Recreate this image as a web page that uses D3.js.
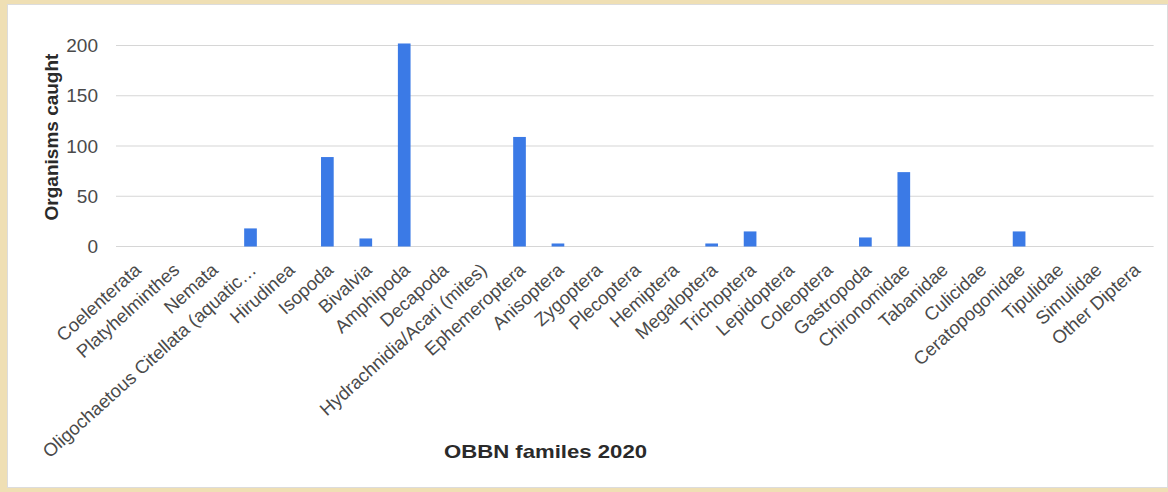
<!DOCTYPE html>
<html>
<head>
<meta charset="utf-8">
<script src="https://cdn.jsdelivr.net/npm/d3@7"></script>
<style>
  html, body { margin: 0; padding: 0; background: #efdfb4; }
  svg { display: block; }
  text { font-family: "Liberation Sans", Arial, sans-serif; }
</style>
</head>
<body>
<svg id="chart" width="1168" height="492"></svg>
<script>
// OBBN benthic families, 2020 sample
const categories = [
  "Coelenterata", "Platyhelminthes", "Nemata", "Oligochaetous Citellata (aquatic\u2026",
  "Hirudinea", "Isopoda", "Bivalvia", "Amphipoda", "Decapoda",
  "Hydrachnidia/Acari (mites)", "Ephemeroptera", "Anisoptera", "Zygoptera",
  "Plecoptera", "Hemiptera", "Megaloptera", "Trichoptera", "Lepidoptera",
  "Coleoptera", "Gastropoda", "Chironomidae", "Tabanidae", "Culicidae",
  "Ceratopogonidae", "Tipulidae", "Simulidae", "Other Diptera"
];
const counts = [0, 0, 0, 18, 0, 89, 8, 202, 0, 0, 109, 3, 0, 0, 0, 3, 15, 0, 0, 9, 74, 0, 0, 15, 0, 0, 0];
const yTicks = [0, 50, 100, 150, 200];
const yTitle = "Organisms caught";
const xTitle = "OBBN familes 2020";

const svg = d3.select("#chart");

// white card on the beige page
svg.append("rect")
  .attr("x", 7.5).attr("y", 4.5)
  .attr("width", 1160).attr("height", 483)
  .attr("fill", "#ffffff")
  .attr("stroke", "#dcdcdc");

const x = d3.scaleBand()
  .domain(categories)
  .range([116, 1153.6])
  .paddingInner(0.67)
  .paddingOuter(0.335);

const y = d3.scaleLinear()
  .domain([0, 200])
  .range([246.5, 45.5]);

// horizontal gridlines
svg.append("g")
  .selectAll("line")
  .data(yTicks)
  .join("line")
  .attr("x1", 116).attr("x2", 1153.6)
  .attr("y1", d => y(d)).attr("y2", d => y(d))
  .attr("stroke", "#d6d6d6")
  .attr("stroke-width", 1.2);

// y tick labels
const yAxis = d3.axisLeft(y).tickValues(yTicks).tickSize(0).tickPadding(0);
const yg = svg.append("g").attr("transform", "translate(98,0)").call(yAxis);
yg.select(".domain").remove();
yg.selectAll("text")
  .attr("font-size", 19)
  .attr("font-family", "Liberation Sans, Arial, sans-serif")
  .attr("fill", "#4a4a4a");

// bars
svg.append("g")
  .selectAll("rect")
  .data(categories.map((c, i) => ({ c, v: counts[i] })))
  .join("rect")
  .attr("x", d => x(d.c))
  .attr("width", x.bandwidth())
  .attr("y", d => y(d.v))
  .attr("height", d => y(0) - y(d.v))
  .attr("fill", "#3b7ae6");

// slanted category labels
const xAxis = d3.axisBottom(x).tickSize(0).tickPadding(0);
const xg = svg.append("g").attr("transform", "translate(0,246.5)").call(xAxis);
xg.select(".domain").remove();
xg.selectAll("text")
  .attr("font-size", 18.5)
  .attr("font-family", "Liberation Sans, Arial, sans-serif")
  .attr("fill", "#4a4a4a")
  .attr("text-anchor", "end")
  .attr("dy", null)
  .attr("y", 0)
  .attr("transform", "translate(7,25) rotate(-42)");

// axis titles
svg.append("text")
  .attr("transform", "translate(58,137) rotate(-90)")
  .attr("text-anchor", "middle")
  .attr("font-size", 19)
  .attr("font-weight", "bold")
  .attr("fill", "#2a2a2a")
  .text(yTitle);

svg.append("text")
  .attr("x", 444).attr("y", 458)
  .attr("text-anchor", "start")
  .attr("font-size", 19)
  .attr("font-weight", "bold")
  .attr("fill", "#2a2a2a")
  .attr("textLength", 203)
  .attr("lengthAdjust", "spacingAndGlyphs")
  .text(xTitle);
</script>
</body>
</html>
